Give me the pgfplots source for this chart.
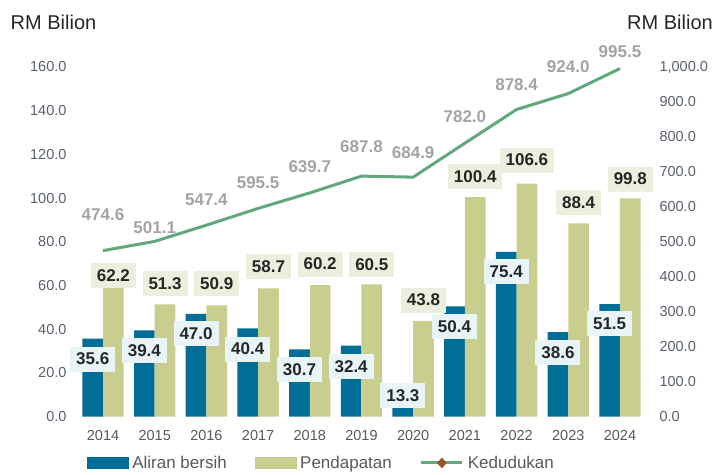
\documentclass[border=0pt]{standalone}
\usepackage{fontspec}
\setmainfont{Liberation Sans}
\usepackage{pgfplots}
\pgfplotsset{compat=1.18}
\usepackage{pgfplotstable}
\definecolor{barblue}{HTML}{006E96}
\definecolor{bargreen}{HTML}{C9CE8F}
\definecolor{boxblue}{HTML}{E9F4F7}
\definecolor{boxgreen}{HTML}{ECEEDE}
\definecolor{linec}{HTML}{62A87C}
\definecolor{brownm}{HTML}{A0522D}
\definecolor{ticktext}{HTML}{59606E}
\definecolor{labtext}{HTML}{262626}
\definecolor{ktext}{HTML}{A3A3A3}
\definecolor{legtext}{HTML}{595959}

% x al pend ked: values; la lp lk: where the labels sit
\pgfplotstableread{
x al   pend  ked   la   lp    lk
0 35.6 62.2  474.6 26.3 64.6  576.5
1 39.4 51.3  501.1 30.1 60.7  539
2 47.0 50.9  547.4 37.8 60.7  619
3 40.4 58.7  595.5 30.9 68.6  668
4 30.7 60.2  639.7 21.3 69.8  714
5 32.4 60.5  687.8 22.7 69.4  771
6 13.3 43.8  684.9 9.6  53.3  754
7 50.4 100.4 782.0 41.0 109.9 857
8 75.4 106.6 878.4 66.2 117.4 948.5
9 38.6 88.4  924.0 29.1 97.8  1000
10 51.5 99.8 995.5 42.4 108.7 1043
}\data

\tikzset{numfmt/.style={/pgf/number format/fixed, /pgf/number format/fixed zerofill,
    /pgf/number format/precision=1, /pgf/number format/1000 sep={,},
    /pgf/number format/assume math mode=true}}

\pgfplotsset{
  common/.style={
    scale only axis, width=580pt, height=349.5pt,
    xmin=-0.6, xmax=10.62, ymin=0, clip=false,
    axis line style={draw=none}, tick style={draw=none},
    every tick label/.append style={font=\fontsize{14.5}{17}\selectfont, text=ticktext},
  },
  lbl/.style={only marks, mark=none, forget plot, point meta=explicit, nodes near coords,
    every node near coord/.append style={anchor=center, inner xsep=6pt, minimum height=25pt,
      font=\bfseries\fontsize{17}{19}\selectfont, text=labtext, numfmt}},
}

\begin{document}
\begin{tikzpicture}
\useasboundingbox (-72pt,-57.5pt) rectangle (642pt,416.5pt);
\begin{axis}[common,
  ymax=160,
  xtick={0,...,10},
  xticklabels={2014,2015,2016,2017,2018,2019,2020,2021,2022,2023,2024},
  xticklabel style={yshift=-10pt, text=legtext},
  ytick={0,20,...,160},
  yticklabel style={numfmt, xshift=-2pt},
  legend style={at={(0.43,-0.133)}, anchor=center, draw=none, fill=none, inner sep=0pt,
    font=\fontsize{17}{20}\selectfont, text=legtext,
    /tikz/every even column/.append style={column sep=26pt},
    /tikz/every odd column/.append style={column sep=2pt}},
  legend columns=3, legend cell align=left,
]
\addlegendimage{legend image code/.code={\fill[barblue] (0pt,-5.5pt) rectangle (41pt,5.5pt);}}
\addlegendentry{Aliran bersih}
\addlegendimage{legend image code/.code={\fill[bargreen] (0pt,-5.5pt) rectangle (41pt,5.5pt);}}
\addlegendentry{Pendapatan}
\addlegendimage{legend image code/.code={\draw[linec, line width=3pt] (0pt,0pt)--(41pt,0pt);
  \fill[brownm] (20.5pt,-5pt)--(25pt,0pt)--(20.5pt,5pt)--(16pt,0pt)--cycle;}}
\addlegendentry{Kedudukan}

\addplot[ybar, bar width=20.7pt, bar shift=-10.35pt, fill=barblue, draw=none, forget plot]
  table[x=x, y=al]{\data};
\addplot[ybar, bar width=20.7pt, bar shift=10.35pt, fill=bargreen, draw=none, forget plot]
  table[x=x, y=pend]{\data};

\addplot[lbl, every node near coord/.append style={fill=boxblue}]
  table[x expr=\thisrow{x}-0.2, y=la, meta=al]{\data};
\addplot[lbl, every node near coord/.append style={fill=boxgreen}]
  table[x expr=\thisrow{x}+0.2, y=lp, meta=pend]{\data};
\end{axis}

\begin{axis}[common,
  ymax=1000,
  axis y line*=right, axis x line=none,
  ytick={0,100,...,1000},
  yticklabel style={numfmt, xshift=4pt},
]
\addplot[linec, line width=3pt, mark=none] table[x=x, y=ked]{\data};
\addplot[lbl, every node near coord/.append style={text=ktext}]
  table[x=x, y=lk, meta=ked]{\data};
\end{axis}

\node[font=\fontsize{20}{24}\selectfont, text=labtext] at (-18.5pt,394.5pt) {RM Bilion};
\node[font=\fontsize{20}{24}\selectfont, text=labtext] at (598pt,394.5pt) {RM Bilion};
\end{tikzpicture}
\end{document}
